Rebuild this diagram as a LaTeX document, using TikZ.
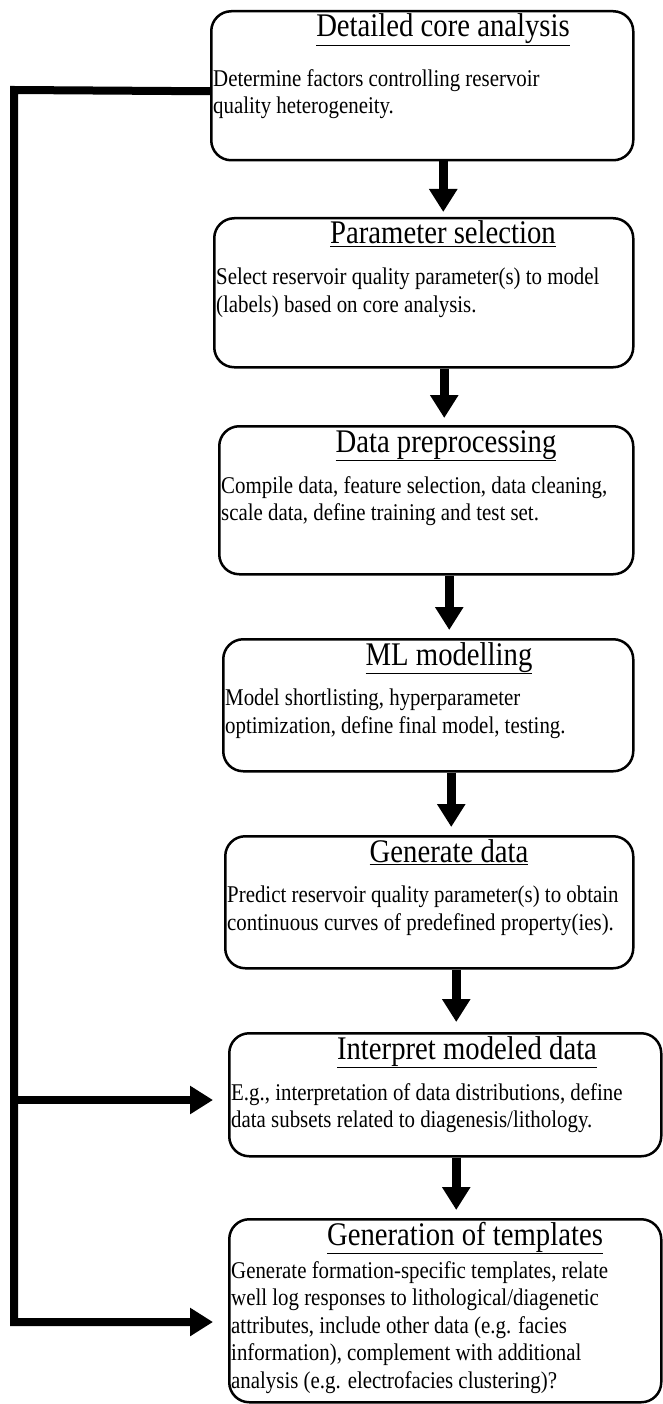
\documentclass[tikz,border=0pt]{standalone}
\usepackage{fontspec}
\setmainfont{Liberation Serif}[FakeStretch=0.87]
\usetikzlibrary{arrows.meta,positioning}
\tikzset{
  box/.style={draw,rounded corners=20pt,line width=2.5pt,anchor=north west,inner sep=0pt},
  ttl/.style={font=\fontsize{33}{36}\selectfont,inner sep=0pt,anchor=base},
  txt/.style={font=\fontsize{24}{27.5}\selectfont,align=left,inner sep=0pt,anchor=north west},
  head/.style={-{Triangle[width=27pt,length=23pt]}},
  flow/.style={line width=9pt,head},
  back/.style={line width=8pt,line join=miter}
}

\begin{document}
\begin{tikzpicture}[x=1pt,y=-1pt]
    \useasboundingbox (0,0) rectangle (662,1404);

    % the seven steps
    \node[box,minimum width=422pt,minimum height=149pt] (b1) at (210,10) {};
    \node[box,minimum width=419pt,minimum height=149pt] (b2) at (213,217) {};
    \node[box,minimum width=414pt,minimum height=148pt] (b3) at (218,425) {};
    \node[box,minimum width=410pt,minimum height=132pt] (b4) at (222,638) {};
    \node[box,minimum width=408pt,minimum height=132pt] (b5) at (224,835) {};
    \node[box,minimum width=432pt,minimum height=123pt] (b6) at (228,1032) {};
    \node[box,minimum width=432pt,minimum height=183pt] (b7) at (228,1218) {};

    % titles
    \node[ttl] (t1) at (443,37) {\underline{Detailed core analysis}};
    \node[ttl] (t2) at (443,244) {\underline{Parameter selection}};
    \node[ttl] (t3) at (446,452) {\underline{Data preprocessing}};
    \node[ttl] (t4) at (449,665) {\underline{ML modelling}};
    \node[ttl] (t5) at (449,862) {\underline{Generate data}};
    \node[ttl] (t6) at (467,1059) {\underline{Interpret modeled data}};
    \node[ttl] (t7) at (465,1245) {\underline{Generation of templates}};

    % texts
    \node[txt] (x1) at ([xshift=3pt,yshift=-59pt]b1.north west)
        {Determine factors controlling reservoir\\quality heterogeneity.};
    \node[txt] (x2) at ([xshift=3pt,yshift=-51pt]b2.north west)
        {Select reservoir quality parameter(s) to model\\(labels) based on core analysis.};
    \node[txt] (x3) at ([xshift=3pt,yshift=-51pt]b3.north west)
        {Compile data, feature selection, data cleaning,\\scale data, define training and test set.};
    \node[txt] (x4) at ([xshift=3pt,yshift=-51pt]b4.north west)
        {Model shortlisting, hyperparameter\\optimization, define final model, testing.};
    \node[txt] (x5) at ([xshift=3pt,yshift=-51pt]b5.north west)
        {Predict reservoir quality parameter(s) to obtain\\continuous curves of predefined property(ies).};
    \node[txt] (x6) at ([xshift=3pt,yshift=-51pt]b6.north west)
        {E.g., interpretation of data distributions, define\\data subsets related to diagenesis/lithology.};
    \node[txt] (x7) at ([xshift=3pt,yshift=-43pt]b7.north west)
        {Generate formation-specific templates, relate\\well log responses to lithological/diagenetic\\attributes, include other data (e.g. facies\\information), complement with additional\\analysis (e.g. electrofacies clustering)?};

    % main flow
    \draw[flow] ([xshift=21pt]b1.south) coordinate (a1) -- ([yshift=5pt]b2.north -| a1);
    \draw[flow] ([xshift=20.5pt]b2.south) coordinate (a2) -- ([yshift=7pt]b3.north -| a2);
    \draw[flow] ([xshift=23pt]b3.south) coordinate (a3) -- ([yshift=8pt]b4.north -| a3);
    \draw[flow] ([xshift=23pt]b4.south) coordinate (a4) -- ([yshift=8pt]b5.north -| a4);
    \draw[flow] ([xshift=27pt]b5.south) coordinate (a5) -- ([yshift=10pt]b6.north -| a5);
    \draw[flow] ([xshift=11pt]b6.south) coordinate (a6) -- ([yshift=8pt]b7.north -| a6);

    % feedback
    \coordinate (fbtop) at (14,90);
    \coordinate (fbmid) at (14,1100);
    \coordinate (fbbot) at (14,1322);
    \draw[back,head] ([yshift=-5.5pt]b1.west) -- (fbtop) -- (fbbot) -- ([xshift=-15pt]b7.west |- fbbot);
    \draw[back,head] (fbmid) -- ([xshift=-15pt]b6.west |- fbmid);
\end{tikzpicture}
\end{document}
